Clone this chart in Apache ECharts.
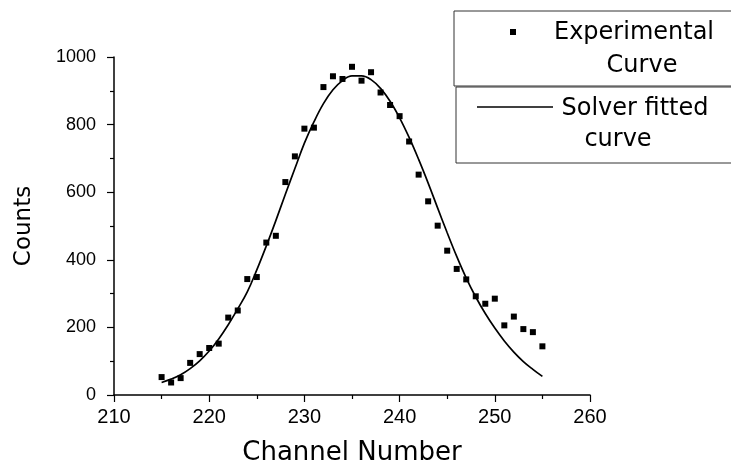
<!DOCTYPE html>
<html>
<head>
<meta charset="utf-8">
<script src="https://cdn.jsdelivr.net/npm/echarts@6/dist/echarts.min.js"></script>
<style>
  html, body { margin: 0; padding: 0; background: #fff; }
  #chart { width: 731px; height: 466px; }
</style>
</head>
<body>
<div id="chart"></div>
<script>
// channel numbers for measured points
const channels = [
  215, 216, 217, 218, 219, 220, 221, 222, 223, 224, 225, 226, 227, 228,
  229, 230, 231, 232, 233, 234, 235, 236, 237, 238, 239, 240, 241, 242,
  243, 244, 245, 246, 247, 248, 249, 250, 251, 252, 253, 254, 255
];
// measured counts (squares)
const measured = [
  53, 37, 50, 95, 121, 139, 152, 229, 250, 343, 349, 451, 471, 630,
  706, 788, 791, 911, 943, 935, 971, 930, 955, 895, 858, 825, 750, 652,
  573, 501, 427, 373, 342, 292, 270, 285, 206, 232, 195, 186, 144
];
// solver fitted curve, read at the same channels
const fitted = [
  37, 47, 60, 78, 101, 130, 166, 208, 255, 305, 370, 441, 516, 594,
  670, 745, 808, 862, 903, 930, 944, 944, 933, 907, 869, 820, 762, 697,
  627, 553, 480, 410, 346, 290, 241, 198, 160, 127, 99, 76, 55
];
const xTicks = { min: 210, max: 260, step: 10 };
const yTicks = { min: 0, max: 1000, step: 200 };

const FONT = 'DejaVu Sans';
const NUM_FONT = 'Liberation Sans';
const chart = echarts.init(document.getElementById('chart'));

const option = {
  backgroundColor: '#fff',
  animation: false,
  grid: { left: 114, top: 57, width: 476, height: 338, containLabel: false, outerBoundsMode: 'none' },
  xAxis: {
    type: 'value',
    min: xTicks.min,
    max: xTicks.max,
    interval: xTicks.step,
    name: 'Channel Number',
    nameLocation: 'middle',
    nameGap: 45,
    nameTextStyle: { fontFamily: FONT, fontSize: 26, color: '#000' },
    axisLine: { show: true, onZero: false, lineStyle: { color: '#000', width: 1.5 } },
    axisTick: { show: true, inside: false, length: 7, lineStyle: { color: '#000', width: 1.2 } },
    minorTick: { show: true, splitNumber: 2, length: 4, lineStyle: { color: '#000', width: 1.2 } },
    axisLabel: { fontFamily: NUM_FONT, fontSize: 20, color: '#000', margin: 12 },
    splitLine: { show: false }
  },
  yAxis: {
    type: 'value',
    min: yTicks.min,
    max: yTicks.max,
    interval: yTicks.step,
    name: 'Counts',
    nameLocation: 'middle',
    nameGap: 78,
    nameTextStyle: { fontFamily: FONT, fontSize: 23, color: '#000' },
    axisLine: { show: true, onZero: false, lineStyle: { color: '#000', width: 1.5 } },
    axisTick: { show: true, inside: false, length: 7, lineStyle: { color: '#000', width: 1.2 } },
    minorTick: { show: true, splitNumber: 2, length: 4, lineStyle: { color: '#000', width: 1.2 } },
    axisLabel: { fontFamily: NUM_FONT, fontSize: 18, color: '#000', margin: 18, formatter: v => String(v) },
    splitLine: { show: false }
  },
  series: [
    {
      name: 'Solver fitted curve',
      type: 'line',
      data: channels.map((c, i) => [c, fitted[i]]),
      smooth: 0.4,
      showSymbol: false,
      lineStyle: { color: '#000', width: 1.7 },
      z: 2
    },
    {
      name: 'Experimental Curve',
      type: 'scatter',
      data: channels.map((c, i) => [c, measured[i]]),
      symbol: 'rect',
      symbolSize: 6,
      itemStyle: { color: '#000', opacity: 1 },
      z: 3
    }
  ],
  graphic: [
    // legend boxes
    {
      type: 'rect',
      shape: { x: 454, y: 11, width: 290, height: 75 },
      style: { fill: '#fff', stroke: '#333', lineWidth: 1 }
    },
    {
      type: 'rect',
      shape: { x: 456, y: 87, width: 290, height: 76 },
      style: { fill: '#fff', stroke: '#333', lineWidth: 1 }
    },
    {
      type: 'rect',
      shape: { x: 510, y: 29, width: 6, height: 6 },
      style: { fill: '#000' }
    },
    {
      type: 'text',
      style: { x: 634, y: 33, text: 'Experimental', align: 'center', verticalAlign: 'middle', font: '24px "DejaVu Sans"', fill: '#000' }
    },
    {
      type: 'text',
      style: { x: 642, y: 66, text: 'Curve', align: 'center', verticalAlign: 'middle', font: '24px "DejaVu Sans"', fill: '#000' }
    },
    {
      type: 'line',
      shape: { x1: 477, y1: 107, x2: 553, y2: 107 },
      style: { stroke: '#000', lineWidth: 1.6 }
    },
    {
      type: 'text',
      style: { x: 635, y: 109, text: 'Solver fitted', align: 'center', verticalAlign: 'middle', font: '24px "DejaVu Sans"', fill: '#000' }
    },
    {
      type: 'text',
      style: { x: 618, y: 140, text: 'curve', align: 'center', verticalAlign: 'middle', font: '24px "DejaVu Sans"', fill: '#000' }
    }
  ]
};

chart.setOption(option);
</script>
</body>
</html>
